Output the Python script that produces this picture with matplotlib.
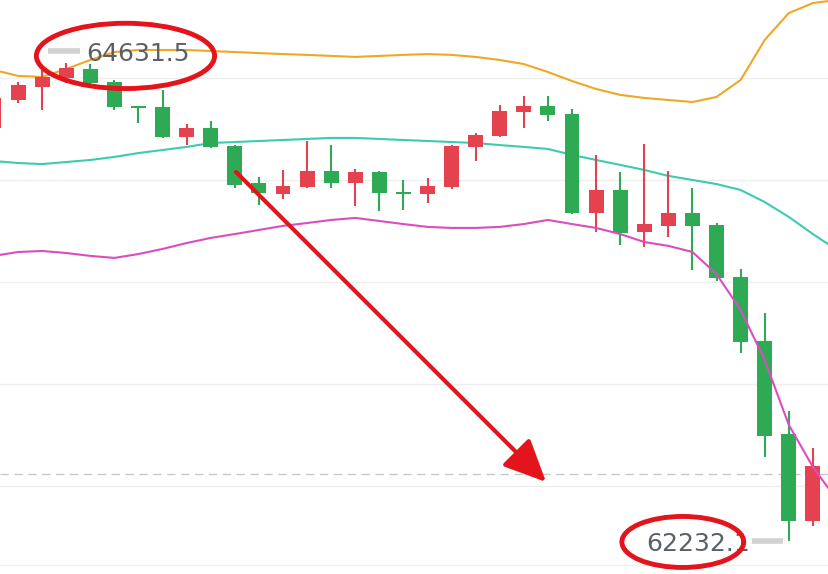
import matplotlib.pyplot as plt
import numpy as np
from matplotlib.patches import Ellipse

# candle data (price), index 0 is the partly cut candle at the left edge
opens = [64255, 64392, 64456, 64500, 64544, 64480, 64363, 64358, 64211, 64255,
         64167, 63985, 63931, 63966, 64044, 63985, 64039, 63941, 63931, 63966,
         64162, 64216, 64333, 64363, 64323, 63838, 63951, 63745, 63775, 63838,
         63780, 63525, 63211, 62755, 62329]
highs = [64421, 64480, 64539, 64573, 64568, 64490, 64363, 64441, 64274, 64289,
         64171, 64015, 64049, 64191, 64171, 64054, 64044, 64000, 64010, 64171,
         64230, 64368, 64412, 64412, 64348, 64123, 64039, 64176, 64044, 63961,
         63789, 63564, 63348, 62868, 62687]
lows = [64235, 64377, 64343, 64475, 64470, 64343, 64279, 64206, 64171, 64157,
        63961, 63877, 63907, 63961, 63961, 63873, 63848, 63853, 63887, 63956,
        64093, 64211, 64255, 64289, 63833, 63745, 63682, 63672, 63721, 63559,
        63505, 63152, 62643, 62232.1, 62305]
closes = [64402, 64466, 64505, 64549, 64475, 64358, 64353, 64211, 64255, 64162,
          63975, 63936, 63971, 64044, 63985, 64039, 63936, 63931, 63971, 64167,
          64221, 64338, 64363, 64319, 63838, 63951, 63740, 63784, 63838, 63775,
          63520, 63206, 62746, 62329, 62599]

# bollinger bands (one more point than candles, runs past the right edge)
boll_up = [64539, 64510, 64505, 64544, 64588, 64627, 64637, 64637, 64637, 64632,
           64627, 64622, 64617, 64613, 64608, 64603, 64608, 64613, 64617, 64613,
           64603, 64588, 64568, 64529, 64485, 64446, 64417, 64402, 64392, 64382,
           64407, 64490, 64686, 64818, 64867, 64882]
boll_mid = [64093, 64083, 64078, 64088, 64098, 64113, 64132, 64147, 64162, 64181,
            64186, 64191, 64196, 64201, 64206, 64206, 64201, 64196, 64191, 64186,
            64181, 64171, 64162, 64152, 64123, 64098, 64074, 64049, 64020, 64000,
            63980, 63951, 63892, 63819, 63735, 63657]
boll_dn = [63628, 63647, 63652, 63642, 63628, 63618, 63637, 63662, 63691, 63716,
           63735, 63755, 63775, 63789, 63804, 63814, 63799, 63784, 63770, 63765,
           63765, 63770, 63784, 63804, 63784, 63765, 63735, 63696, 63677, 63647,
           63539, 63363, 63118, 62800, 62594, 62432]

grid_levels = [62500, 63000, 63500, 64000, 64500]
max_price = 64631.5
min_price = 62232.1
last_price = 62560

UP = '#E5424F'
DOWN = '#2EA954'

fig = plt.figure(figsize=(8.29, 5.74), dpi=100)
ax = fig.add_axes([0, 0, 1, 1])
ax.set_xlim(0.25, 34.67)
ax.set_ylim(62069, 64882)
ax.axis('off')

for g in grid_levels:
    ax.axhline(g, color='#eeeeee', lw=1, zorder=0)
ax.axhline(62115, color='#eeeeee', lw=1, zorder=0)
ax.axhline(last_price, color='#c8c8c8', lw=1, ls=(0, (6, 4)), zorder=0)

x = np.arange(len(boll_up))
ax.plot(x, boll_up, color='#F0A724', lw=1.5, zorder=1)
ax.plot(x, boll_mid, color='#3CCBB0', lw=1.5, zorder=1)
ax.plot(x, boll_dn, color='#DB4DBE', lw=1.5, zorder=3)

o = np.array(opens)
c = np.array(closes)
xc = np.arange(len(opens))
colors = [UP if cc >= oo else DOWN for oo, cc in zip(o, c)]
body_lo = np.minimum(o, c)
body_h = np.maximum(np.abs(c - o), 9)
ax.vlines(xc, lows, highs, colors=colors, lw=1.5, zorder=2)
ax.bar(xc, body_h, bottom=body_lo, width=0.62, color=colors, zorder=2)

# red hand-drawn annotations
RED = '#E3141B'
hi_ring = Ellipse((5.46, 64608), 7.4, 320, fill=False, ec=RED, lw=3.5, zorder=6)
lo_ring = Ellipse((28.6, 62226), 5.06, 250, fill=False, ec=RED, lw=3.5, zorder=6)
ax.add_patch(hi_ring)
ax.add_patch(lo_ring)

# high / low markers
ax.plot([2.25, 3.57], [max_price, max_price], color='#d2d2d2', lw=4,
        solid_capstyle='butt', zorder=4)
ax.text(3.85, max_price - 15, f'{max_price:.1f}', fontsize=18, color='#5b6068',
        va='center', ha='left', zorder=5)
ax.plot([31.47, 32.76], [min_price, min_price], color='#d2d2d2', lw=4,
        solid_capstyle='butt', zorder=4)
lo_txt = ax.text(31.4, min_price - 15, f'{min_price:.1f}', fontsize=18,
                 color='#5b6068', va='center', ha='right', zorder=5)
lo_txt.set_clip_path(lo_ring)

ax.annotate('', xy=(22.92, 62520), xytext=(10.05, 64039),
            arrowprops=dict(arrowstyle='-|>,head_length=1.3,head_width=0.6',
                            color=RED, lw=3, mutation_scale=20,
                            shrinkA=0, shrinkB=0), zorder=6)

fig.savefig('out.png', dpi=100)
